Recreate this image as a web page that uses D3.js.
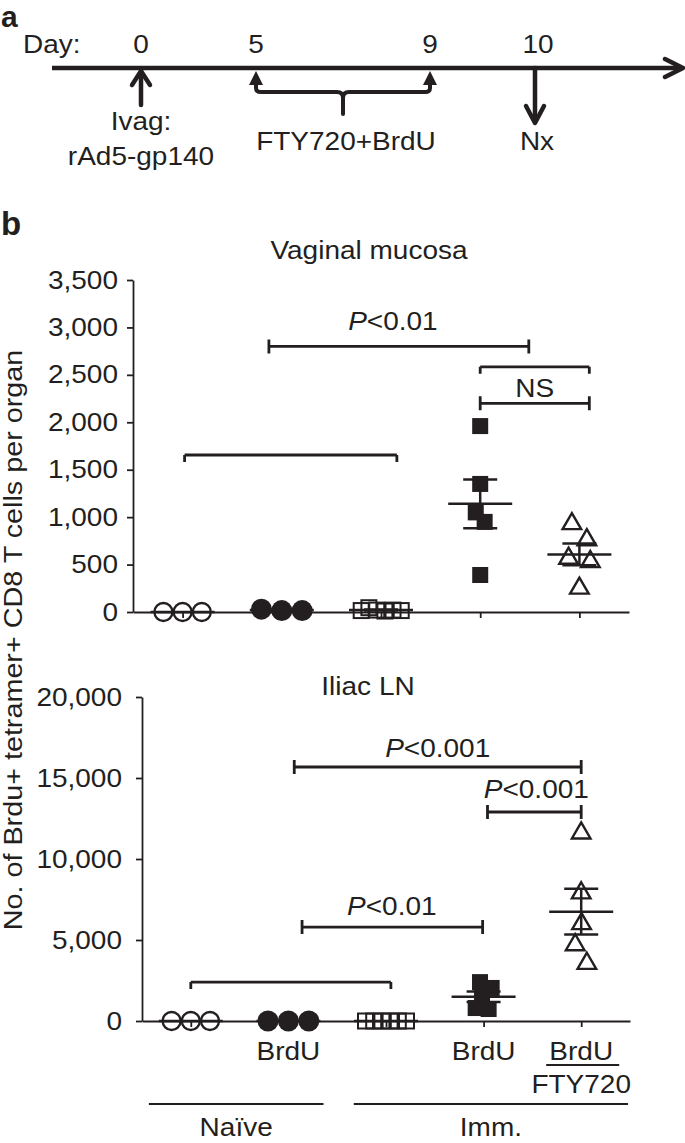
<!DOCTYPE html>
<html>
<head>
<meta charset="utf-8">
<script src="https://cdn.jsdelivr.net/npm/d3@7"></script>
<style>
  body { margin: 0; background: #fff; }
  svg { display: block; }
  text { font-family: "Liberation Sans", Arial, sans-serif; fill: #231f20; }
</style>
</head>
<body>
<div id="chart"></div>
<script>
// --- Data ---
const groups = ["Naive", "Naive BrdU", "Imm", "Imm BrdU", "Imm BrdU FTY720"];
const markerTypes = ["circleOpen", "circleFilled", "squareOpen", "squareFilled", "triangleOpen"];
const xLabelsRow1 = ["", "BrdU", "", "BrdU", "BrdU"];
const xLabelsRow2 = ["", "", "", "", "FTY720"];
const cohorts = [
    { name: "Naïve", from: -0.43, to: 1.36 },
    { name: "Imm.", from: 1.67, to: 4.48 }
];

// Vaginal mucosa, cells per organ
const vagNaive = [0, 0, 0];
const vagNaiveBrdU = [30, 15, 15];
const vagImm = [45, 15, 10, 20, 20, 15];
const vagImmBrdU = [1960, 1350, 1050, 950, 390];
const vagImmBrdUFty = [930, 760, 565, 530, 250];
const vagTicks = [0, 500, 1000, 1500, 2000, 2500, 3000, 3500];
const vagBrackets = [
    { from: 0.87, to: 3.49, value: 2800, ends: "both" },
    { from: 3, to: 4.1, value: 2585, ends: "down" },
    { from: 3, to: 4.1, value: 2200, ends: "both" },
    { from: 0.02, to: 2.16, value: 1655, ends: "down" }
];
const vagNotes = [
    { text: "P<0.01", at: 2.12, value: 2970 },
    { text: "NS", at: 3.55, value: 2270 }
];

// Iliac LN, cells per organ
const iliNaive = [0, 0, 0];
const iliNaiveBrdU = [0, 0, 0];
const iliImm = [0, 0, 0, 0, 0, 0];
const iliImmBrdU = [2400, 2040, 1500, 800, 740];
const iliImmBrdUFty = [11600, 7900, 6000, 4700, 3550];
const iliTicks = [0, 5000, 10000, 15000, 20000];
const iliBrackets = [
    { from: 1.06, to: 4, value: 15680, ends: "both" },
    { from: 3.04, to: 4, value: 12900, ends: "both" },
    { from: 1.14, to: 2.99, value: 5800, ends: "both" },
    { from: 0, to: 2.05, value: 2400, ends: "down" }
];
const iliNotes = [
    { text: "P<0.001", at: 2.53, value: 16300 },
    { text: "P<0.001", at: 3.54, value: 13750 },
    { text: "P<0.01", at: 2.06, value: 6540 }
];

// Timeline (panel a)
const days = [0, 5, 9, 10];

// --- Setup ---
const W = 685, H = 1143;
const ink = "#231f20";
const SX = 1.12; // reference type is slightly wider than Liberation Sans

const svg = d3.select("#chart").append("svg")
    .attr("width", W)
    .attr("height", H);

function txt(parent, x, y, s, o = {}) {
    const t = parent.append("text")
        .attr("transform", `translate(${x},${y})` + (o.rotate ? ` rotate(${o.rotate})` : "") + ` scale(${o.sx || SX},1)`)
        .attr("text-anchor", o.anchor || "middle")
        .style("font-size", (o.size || 25) + "px");
    if (o.bold) t.style("font-weight", "bold");
    if (s.startsWith("P<")) {
        t.append("tspan").style("font-style", "italic").text("P");
        t.append("tspan").text(s.slice(1));
    } else {
        t.text(s);
    }
    return t;
}

// --- Panel a: timeline ---
const pa = svg.append("g");
txt(pa, 1, 27, "a", { anchor: "start", bold: true, size: 30, sx: 1 });

const dayX = d3.scaleLinear().domain(days).range([141, 256, 430, 537]);
const lineY = 68;

txt(pa, 23, 53, "Day:", { anchor: "start" });
days.forEach(d => txt(pa, dayX(d) + (d === 10 ? 1 : 0), 53, String(d)));

const thick = { stroke: ink, "stroke-width": 4.5, fill: "none", "stroke-linecap": "round", "stroke-linejoin": "round" };
function path(g, d, style) {
    const p = g.append("path").attr("d", d);
    Object.entries(style).forEach(([k, v]) => p.attr(k, v));
    return p;
}

// main axis with open arrow head
path(pa, `M52,${lineY}H682`, { ...thick, "stroke-linecap": "butt" });
path(pa, `M665,${lineY - 9}L683,${lineY}L665,${lineY + 9}`, thick);

// day 0: immunisation arrow
const x0 = dayX(0);
path(pa, `M${x0},105V${lineY + 4}`, thick);
path(pa, `M${x0 - 9},85L${x0},${lineY + 3}L${x0 + 9},85`, thick);
txt(pa, x0, 130, "Ivag:");
txt(pa, x0, 165, "rAd5-gp140");

// day 5-9: treatment brace
const x5 = dayX(5), x9 = dayX(9), xm = (x5 + x9) / 2;
path(pa, `M${x5},84V88Q${x5},92 ${x5 + 5},92H${xm - 6}Q${xm},92 ${xm},98V114M${xm},98Q${xm},92 ${xm + 6},92H${x9 - 5}Q${x9},92 ${x9},88V84`,
    { stroke: ink, "stroke-width": 4, fill: "none", "stroke-linecap": "round" });
[x5, x9].forEach(x => path(pa, `M${x},71L${x + 7},85H${x - 7}Z`, { fill: ink, stroke: "none" }));
txt(pa, xm + 3, 150, "FTY720+BrdU");

// day 10: necropsy
const x10 = dayX(10);
path(pa, `M${x10 - 2},${lineY}V122`, thick);
path(pa, `M${x10 - 11},106L${x10 - 2},123L${x10 + 7},106`, thick);
txt(pa, x10, 150, "Nx");

// --- Panel b ---
txt(svg, 1, 235, "b", { anchor: "start", bold: true, size: 33, sx: 1 });
txt(svg, 22, 640, "No. of Brdu+ tetramer+ CD8 T cells per organ", { rotate: -90, sx: 1.15 });

const symSize = {
    circleOpen: 9, circleFilled: 10.5, squareOpen: 15, squareFilled: 16, triangleOpen: 150
};
const collideR = {
    circleOpen: 9.6, circleFilled: 10.2, squareOpen: 4.1, squareFilled: 6.5, triangleOpen: 11
};

function dodge(values, y, cx, r) {
    const nodes = values.map((v, i) => ({
        x: cx + (i - (values.length - 1) / 2) * 0.5,
        y: y(v),
        fy: y(v)
    }));
    const sim = d3.forceSimulation(nodes)
        .force("x", d3.forceX(cx).strength(0.06))
        .force("collide", d3.forceCollide(r).strength(1).iterations(3))
        .stop();
    for (let i = 0; i < 300; i++) sim.tick();
    return nodes;
}

function drawMarker(g, type, d) {
    if (type === "circleOpen" || type === "circleFilled") {
        g.append("circle")
            .attr("cx", d.x).attr("cy", d.y)
            .attr("r", symSize[type])
            .attr("fill", type === "circleFilled" ? ink : "none")
            .attr("stroke", ink)
            .attr("stroke-width", type === "circleFilled" ? 0 : 2.3);
    } else if (type === "squareOpen" || type === "squareFilled") {
        const s = symSize[type];
        g.append("rect")
            .attr("x", d.x - s / 2).attr("y", d.y - s / 2)
            .attr("width", s).attr("height", s)
            .attr("fill", type === "squareFilled" ? ink : "none")
            .attr("stroke", type === "squareFilled" ? "none" : ink)
            .attr("stroke-width", 2);
    } else {
        g.append("path")
            .attr("d", d3.symbol(d3.symbolTriangle, symSize[type])())
            .attr("transform", `translate(${d.x},${d.y})`)
            .attr("fill", "none")
            .attr("stroke", ink)
            .attr("stroke-width", 2.4)
            .attr("stroke-linejoin", "miter");
    }
}

function scatterPanel(cfg) {
    const g = svg.append("g");
    const x = d3.scalePoint().domain(groups).range(cfg.xRange).padding(0.5);
    const y = d3.scaleLinear().domain([0, d3.max(cfg.ticks)]).range(cfg.yRange);
    const xi = d3.scaleLinear().domain([0, groups.length - 1]).range([x(groups[0]), x(groups[groups.length - 1])]);

    txt(g, cfg.titleX, cfg.titleY, cfg.title);

    // axes
    const yAxis = g.append("g")
        .attr("transform", `translate(${cfg.xRange[0]},0)`)
        .call(d3.axisLeft(y).tickValues(cfg.ticks).tickSize(6).tickSizeOuter(0).tickFormat(d3.format(",")));
    yAxis.selectAll("text")
        .attr("x", -cfg.labelPad / SX)
        .attr("transform", `scale(${SX},1)`)
        .attr("fill", ink)
        .style("font-size", "25px")
        .style("font-family", null);
    const xAxis = g.append("g")
        .attr("transform", `translate(0,${cfg.yRange[0]})`)
        .call(d3.axisBottom(x).tickSize(6).tickSizeOuter(0).tickFormat(""));
    [yAxis, xAxis].forEach(a => {
        a.selectAll("path, line").attr("stroke", ink).attr("stroke-width", 1.8);
    });

    // points
    cfg.series.forEach((vals, i) => {
        const type = markerTypes[i];
        const cx = x(groups[i]);
        dodge(vals, y, cx, collideR[type]).forEach(d => drawMarker(g, type, d));

        // mean +/- SEM
        const mean = d3.mean(vals);
        const sem = vals.length > 1 ? d3.deviation(vals) / Math.sqrt(vals.length) : 0;
        const bar = g.append("g").attr("stroke", ink).attr("stroke-width", 2.5).attr("fill", "none");
        bar.append("line").attr("x1", cx - 32).attr("x2", cx + 32).attr("y1", y(mean)).attr("y2", y(mean));
        if (sem > 0) {
            bar.append("line").attr("x1", cx).attr("x2", cx).attr("y1", y(mean - sem)).attr("y2", y(mean + sem));
            [mean - sem, mean + sem].forEach(v =>
                bar.append("line").attr("x1", cx - 17).attr("x2", cx + 17).attr("y1", y(v)).attr("y2", y(v)));
        }
    });

    // significance brackets
    cfg.brackets.forEach(b => {
        const yy = y(b.value), xa = xi(b.from), xb = xi(b.to);
        const top = b.ends === "both" ? yy - 7 : yy;
        const d = `M${xa},${top}V${yy + 7}M${xa},${yy}H${xb}M${xb},${top}V${yy + 7}`;
        g.append("path").attr("d", d).attr("stroke", ink).attr("stroke-width", 2.8).attr("fill", "none");
    });
    cfg.notes.forEach(n => txt(g, xi(n.at), y(n.value), n.text));

    return { x, xi };
}

scatterPanel({
    title: "Vaginal mucosa", titleX: 369, titleY: 259,
    xRange: [133, 629], yRange: [612, 280], labelPad: 15,
    ticks: vagTicks,
    series: [vagNaive, vagNaiveBrdU, vagImm, vagImmBrdU, vagImmBrdUFty],
    brackets: vagBrackets, notes: vagNotes
});

const bottom = scatterPanel({
    title: "Iliac LN", titleX: 368, titleY: 695,
    xRange: [142, 630], yRange: [1021, 697], labelPad: 20,
    ticks: iliTicks,
    series: [iliNaive, iliNaiveBrdU, iliImm, iliImmBrdU, iliImmBrdUFty],
    brackets: iliBrackets, notes: iliNotes
});

// category labels under the lower panel
const lab = svg.append("g");
groups.forEach((grp, i) => {
    const cx = bottom.x(grp);
    if (xLabelsRow1[i]) txt(lab, cx, 1060, xLabelsRow1[i]);
    if (xLabelsRow2[i]) {
        lab.append("line").attr("x1", cx - 35).attr("x2", cx + 38).attr("y1", 1065).attr("y2", 1065)
            .attr("stroke", ink).attr("stroke-width", 2);
        txt(lab, cx, 1093, xLabelsRow2[i]);
    }
});
cohorts.forEach(c => {
    const xa = bottom.xi(c.from), xb = bottom.xi(c.to);
    lab.append("line").attr("x1", xa).attr("x2", xb).attr("y1", 1104).attr("y2", 1104)
        .attr("stroke", ink).attr("stroke-width", 1.8);
    txt(lab, (xa + xb) / 2, 1136, c.name);
});
</script>
</body>
</html>
